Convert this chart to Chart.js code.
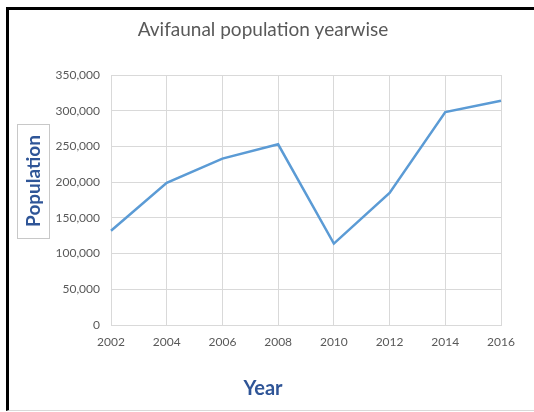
<!DOCTYPE html>
<html>
<head>
<meta charset="utf-8">
<script src="https://cdn.jsdelivr.net/npm/chart.js@4"></script>
<style>
    html, body { margin: 0; padding: 0; background: #ffffff; overflow: hidden; }
    #frame {
        position: absolute;
        left: 6px;
        top: 7px;
        width: 540px;
        height: 400px;
        border-top: 3px solid #000000;
        border-left: 3px solid #000000;
        border-bottom: 1px solid #d9d9d9;
        background: #ffffff;
    }
    #populationChart { display: block; }
</style>
</head>
<body>
<div id="frame">
    <canvas id="populationChart" width="525" height="400"></canvas>
</div>
<script>
// Chart data
const years = ['2002', '2004', '2006', '2008', '2010', '2012', '2014', '2016'];
const population = [132000, 199000, 233000, 253000, 114000, 185000, 298000, 314000];
const yTicks = [0, 50000, 100000, 150000, 200000, 250000, 300000, 350000];

const chartTitle = 'Avifaunal population yearwise';
const xTitle = 'Year';
const yTitle = 'Population';

const FONT = 'Lato, "Open Sans", sans-serif';

// Draws the chart title and the two axis titles (the y title sits in a small box)
const titlesPlugin = {
    id: 'titles',
    afterDraw(chart) {
        const ctx = chart.ctx;
        ctx.save();
        ctx.textAlign = 'center';
        ctx.textBaseline = 'middle';

        ctx.fillStyle = '#595959';
        ctx.font = '19px ' + FONT;
        ctx.fillText(chartTitle, 254, 20);

        ctx.fillStyle = '#2f5597';
        ctx.font = 'bold 20px ' + FONT;
        ctx.fillText(xTitle, 254, 379);

        ctx.strokeStyle = '#c8c8c8';
        ctx.lineWidth = 1;
        ctx.strokeRect(8.5, 114.5, 32, 114);

        ctx.font = 'bold 19px ' + FONT;
        ctx.translate(24, 171);
        ctx.rotate(-Math.PI / 2);
        ctx.fillText(yTitle, 0, 1);
        ctx.restore();
    }
};

new Chart(document.getElementById('populationChart'), {
    type: 'line',
    data: {
        labels: years,
        datasets: [{
            label: 'Population',
            data: population,
            borderColor: '#5b9bd5',
            backgroundColor: '#5b9bd5',
            borderWidth: 2.5,
            pointRadius: 0,
            tension: 0,
            fill: false
        }]
    },
    options: {
        responsive: false,
        animation: false,
        devicePixelRatio: 1,
        layout: {
            padding: { top: 65, right: 33, bottom: 0, left: 0 }
        },
        plugins: {
            legend: { display: false },
            title: { display: false },
            tooltip: { enabled: false }
        },
        scales: {
            x: {
                type: 'category',
                offset: false,
                afterFit: function(scale) { scale.height = 85; },
                grid: {
                    color: '#d9d9d9',
                    drawTicks: false
                },
                border: { color: '#d9d9d9' },
                ticks: {
                    color: '#595959',
                    font: { family: FONT, size: 12 },
                    padding: 10,
                    maxRotation: 0,
                    autoSkip: false
                }
            },
            y: {
                min: 0,
                max: 350000,
                afterFit: function(scale) { scale.width = 102; },
                afterBuildTicks: function(scale) {
                    scale.ticks = yTicks.map(v => ({ value: v }));
                },
                grid: {
                    color: '#d9d9d9',
                    drawTicks: false
                },
                border: { color: '#d9d9d9' },
                ticks: {
                    color: '#595959',
                    font: { family: FONT, size: 12 },
                    padding: 11,
                    callback: function(value) {
                        return Number(value).toLocaleString('en-US');
                    }
                }
            }
        }
    },
    plugins: [titlesPlugin]
});
</script>
</body>
</html>
